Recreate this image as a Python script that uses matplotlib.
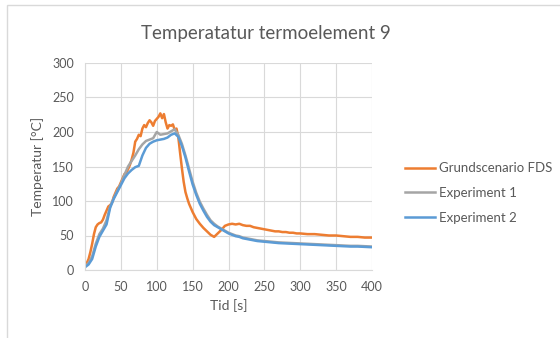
import matplotlib
matplotlib.use('Agg')
import matplotlib.pyplot as plt
from matplotlib.patches import Rectangle

plt.rcParams['font.family'] = ['Lato', 'DejaVu Sans']

# ─── data ───
t_fds = [0, 2.5, 5, 7.5, 10, 12.5, 15, 17.5, 20, 22.5, 25, 27.5, 30, 32.5, 35, 37.5,
         40, 42.5, 45, 47.5, 50, 52.5, 55, 57.5, 60, 62.5, 65, 67.5, 70, 72.5, 75, 77.5,
         80, 82.5, 85, 87.5, 90, 92.5, 95, 97.5, 100, 102.5, 105, 107.5, 110, 112.5, 115,
         117.5, 120, 122.5, 125, 127.5, 130, 132.5, 135, 137.5, 140, 142.5,
         145, 150, 155, 160, 165, 170, 175, 180, 185, 190, 195, 200, 205, 210, 215, 220,
         225, 230, 235, 240, 245, 250, 255, 260, 265, 270, 275, 280, 285, 290, 295, 300,
         310, 320, 330, 340, 350, 360, 370, 380, 390, 400]
fds = [7, 10, 16, 26, 38, 52, 62, 66, 68, 69, 73, 80, 86, 92, 94, 97,
       106, 112, 118, 121, 127, 133, 139, 141, 146, 152, 160, 170, 186, 190, 196, 194,
       205, 210, 207, 213, 217, 214, 209, 216, 219, 222, 227, 220, 226, 214, 205,
       210, 209, 211, 203, 205, 193, 170, 148, 128, 113, 104,
       96, 84, 74, 67, 61, 56, 51, 48, 53, 58, 64, 66, 67, 66, 67, 65,
       64, 64, 62, 61, 60, 59, 58, 57, 56, 56, 55, 55, 54, 54, 53, 53,
       52, 52, 51, 50, 50, 49, 48, 48, 47, 47]

t_exp = [0, 5, 10, 15, 20, 25, 30, 35, 40, 45, 50, 55, 60, 65, 70, 75, 80, 85, 90, 95,
         100, 105, 110, 115, 120, 125, 130, 135, 140, 145, 150, 155, 160, 165, 170, 175,
         180, 185, 190, 195, 200, 205, 210, 215, 220, 230, 240, 250, 260, 270, 280, 290,
         300, 310, 320, 330, 340, 350, 360, 370, 380, 390, 400]
exp1 = [5, 10, 20, 38, 52, 60, 72, 92, 104, 115, 125, 138, 150, 158, 166, 175, 182, 187, 189, 191,
        200, 196, 197, 198, 201, 204, 196, 183, 166, 147, 128, 112, 99, 89, 80, 72,
        67, 63, 60, 57, 54, 52, 50, 49, 47, 45, 43, 42, 41, 40, 39.5, 39,
        38.5, 38, 37.5, 37, 36.5, 36, 35.5, 35, 35, 34.5, 34]
exp2 = [4, 8, 16, 34, 48, 57, 66, 90, 103, 113, 123, 133, 140, 145, 149, 151, 166, 177, 183, 186,
        188, 189, 190, 192, 196, 198, 193, 180, 163, 143, 124, 109, 96, 86, 77, 70,
        65, 62, 59, 56, 53, 51, 49, 48, 46, 44, 42, 41, 40, 39, 38.5, 38,
        37.5, 37, 36.5, 36, 35.5, 35, 34.5, 34, 34, 33.5, 33]

labels = ['Grundscenario FDS', 'Experiment 1', 'Experiment 2']
colors = ['#ED7D31', '#A5A5A5', '#5B9BD5']

fig = plt.figure(figsize=(5.6, 3.38), dpi=100)
fig.patches.append(Rectangle((7 / 560, -0.1), 1.2, 1 - 5 / 338 + 0.1,
                             transform=fig.transFigure, fill=False,
                             edgecolor='#d9d9d9', linewidth=1))

ax = fig.add_axes([85 / 560, 68 / 338, 287 / 560, 207 / 338])
ax.plot(t_fds, fds, color=colors[0], lw=1.8, label=labels[0])
ax.plot(t_exp, exp1, color=colors[1], lw=1.8, label=labels[1])
ax.plot(t_exp, exp2, color=colors[2], lw=1.8, label=labels[2])

ax.set_xlim(0, 400)
ax.set_ylim(0, 300)
ax.set_xticks(range(0, 401, 50))
ax.set_yticks(range(0, 301, 50))
ax.grid(True, color='#d9d9d9', lw=0.8)
ax.set_axisbelow(True)
for s in ['top', 'right']:
    ax.spines[s].set_visible(False)
for s in ['left', 'bottom']:
    ax.spines[s].set_color('#d9d9d9')
ax.tick_params(length=0, labelsize=9, labelcolor='#595959', pad=8)

ax.set_xlabel('Tid [s]', fontsize=10, color='#595959', labelpad=4)
ax.set_ylabel('Temperatur [°C]', fontsize=10, color='#595959', labelpad=6)
fig.text(266 / 560, 1 - 33 / 338, 'Temperatatur termoelement 9', fontsize=13.5,
         color='#595959', ha='center', va='center')

ax.legend(loc='center left', bbox_to_anchor=(405 / 560, 1 - 193 / 338),
          bbox_transform=fig.transFigure, frameon=False, fontsize=9.5,
          handlelength=2.3, handletextpad=0.25, labelspacing=0.95,
          borderpad=0, borderaxespad=0, labelcolor='#595959')

fig.savefig('out.png', dpi=100)
